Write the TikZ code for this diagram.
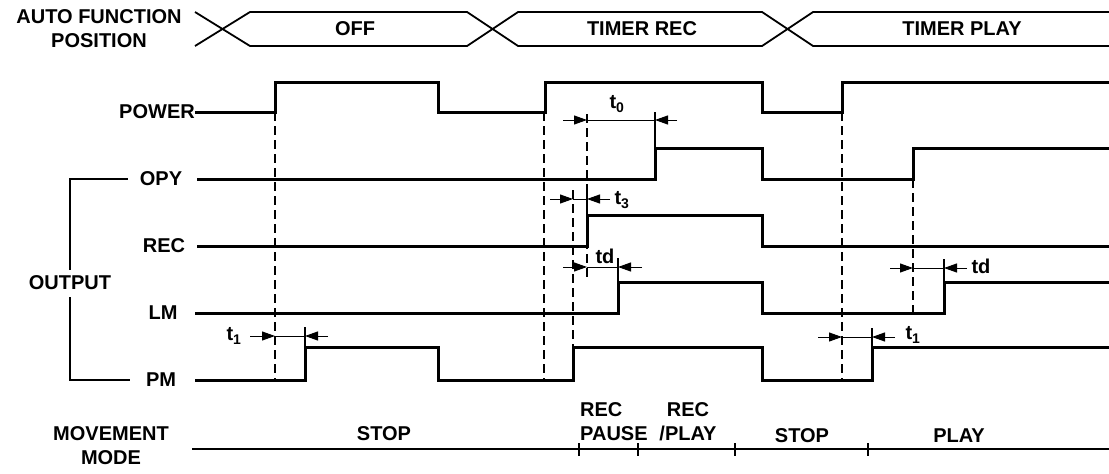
\documentclass[tikz,border=0pt]{standalone}
\usepackage{fontspec}
\setmainfont{Liberation Sans}
\usetikzlibrary{arrows.meta}

\begin{document}
\begin{tikzpicture}[x=1pt, y=-1pt,
  txt/.style={inner sep=0pt, font=\fontsize{20}{24}\selectfont\bfseries, align=center},
  sig/.style={line width=3pt},
  bus/.style={line width=1.8pt},
  thn/.style={line width=1.3pt},
  dsh/.style={line width=1.3pt, dash pattern=on 9pt off 5pt},
  dim/.style={line width=1pt, -{Triangle[length=13pt,width=9pt]}}
]
\useasboundingbox (0,0) rectangle (1109,474);
% auto function position bus
\node[txt] (lauto) at (99,29) {AUTO FUNCTION\\POSITION};
\draw[bus] (195,12) -- (250,46) -- (467,46) -- (518,12) -- (762,12) -- (813,46) -- (1109,46);
\draw[bus] (195,46) -- (250,12) -- (467,12) -- (518,46) -- (762,46) -- (813,12) -- (1109,12);
\node[txt] (off) at (355,29) {OFF};
\node[txt] (trec) at (642,29) {TIMER REC};
\node[txt] (tplay) at (962,29) {TIMER PLAY};
% signal names
\node[txt] (lpow) at (157,112) {POWER};
\node[txt] (lopy) at (161,179) {OPY};
\node[txt] (lrec) at (164,246) {REC};
\node[txt] (llm) at (163,313) {LM};
\node[txt] (lpm) at (161,380) {PM};
\node[txt] (lout) at (70,283) {OUTPUT};
\draw[thn] ([xshift=-12pt]lopy.west) -| ([yshift=6pt]lout.north);
\draw[thn] ([yshift=-7pt]lout.south) |- ([xshift=-16pt]lpm.west);
% waveforms
\draw[sig] (lpow.east) -- (275,112) -- (275,82) -- (438,82) -- (438,112) -- (545,112) -- (545,82) -- (762,82) -- (762,112) -- (842,112) -- (842,82) -- (1109,82);
\draw[sig] (197,179) -- (655,179) -- (655,148) -- (762,148) -- (762,179) -- (913,179) -- (913,148) -- (1109,148);
\draw[sig] (197,246) -- (587,246) -- (587,215) -- (762,215) -- (762,246) -- (1109,246);
\draw[sig] (195,313) -- (618,313) -- (618,282) -- (762,282) -- (762,313) -- (944,313) -- (944,282) -- (1109,282);
\draw[sig] (195,380) -- (305,380) -- (305,347) -- (438,347) -- (438,380) -- (573,380) -- (573,347) -- (762,347) -- (762,380) -- (872,380) -- (872,347) -- (1109,347);
% timing guides
\foreach \x/\ya/\yb in {275/112/380, 544/112/380, 573/190/380, 587/114/278, 842/112/380, 913/179/313}
  \draw[dsh] (\x,\ya) -- (\x,\yb);
\foreach \x/\ya/\yb in {305/327/347, 655/112/148, 587/191/215, 618/258/282, 944/259/282, 872/328/347}
  \draw[thn] (\x,\ya) -- (\x,\yb);
% delay markers
\foreach \y/\a/\b/\c/\d in {336/250/275/305/328, 120/563/587/655/677, 199/550/573/587/610, 267/563/587/618/642, 268/890/913/944/967, 337/818/842/872/895} {
  \draw[dim] (\a,\y) -- (\b,\y);
  \draw[line width=1pt] (\b,\y) -- (\c,\y);
  \draw[dim] (\d,\y) -- (\c,\y);
}
\node[txt] (t1a) at (234,336) {t\textsubscript{1}};
\node[txt] (t0) at (617,104) {t\textsubscript{0}};
\node[txt] (t3) at (622,200) {t\textsubscript{3}};
\node[txt] (tda) at (605,256) {td};
\node[txt] (tdb) at (981,266) {td};
\node[txt] (t1b) at (913,335) {t\textsubscript{1}};
% movement mode
\node[txt] (lmove) at (111,446) {MOVEMENT\\MODE};
\draw[thn] (192,449) -- (1109,449);
\foreach \x in {579,638,735,868}
  \draw[line width=2pt] (\x,443) -- (\x,456);
\node[txt] (mstop) at (384,434) {STOP};
\node[txt, align=left, anchor=west] (mpause) at (580,422) {REC\\PAUSE};
\node[txt] (mrec) at (688,422) {REC\\/PLAY};
\node[txt] (mstopb) at (802,436) {STOP};
\node[txt] (mplay) at (959,436) {PLAY};
\end{tikzpicture}
\end{document}
